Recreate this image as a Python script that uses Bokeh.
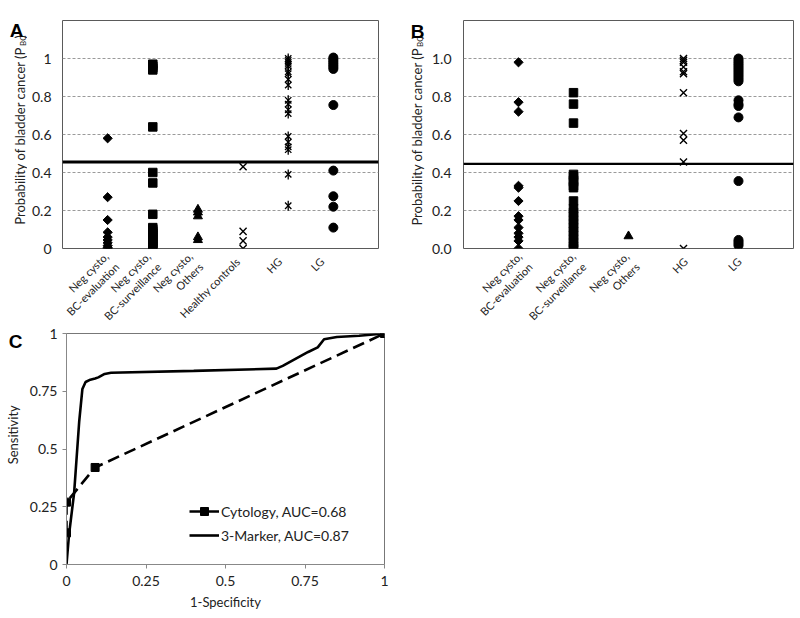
from math import pi
from bokeh.plotting import figure
from bokeh.models import FixedTicker, Span, Legend, LegendItem, Range1d
from bokeh.core.properties import value
from bokeh.layouts import column, row
from bokeh.embed import file_html
from bokeh.resources import INLINE

FONT = "Lato"

# ---------------- data: panel A ----------------
a_categories = ["Neg cysto,\nBC-evaluation", "Neg cysto,\nBC-surveillance", "Neg cysto,\nOthers",
                "Healthy controls", "HG", "LG"]
a_bc_eval = [0.58, 0.27, 0.15, 0.085, 0.06, 0.045, 0.03, 0.015, 0.005, 0.0]
a_bc_surv = [0.97, 0.96, 0.95, 0.94, 0.64, 0.40, 0.345, 0.18, 0.11, 0.10, 0.09, 0.08, 0.07,
             0.06, 0.05, 0.04, 0.03, 0.02, 0.01, 0.0]
a_others = [0.205, 0.19, 0.17, 0.06, 0.045]
a_healthy = [0.43, 0.09, 0.04, 0.0]
a_hg = [1.0, 0.99, 0.98, 0.97, 0.96, 0.93, 0.92, 0.89, 0.86, 0.78, 0.76, 0.73, 0.71,
        0.59, 0.56, 0.535, 0.52, 0.39, 0.225]
a_lg = [1.005, 0.995, 0.985, 0.975, 0.965, 0.955, 0.945, 0.755, 0.41, 0.275, 0.22, 0.11]
a_threshold = 0.455

# ---------------- data: panel B ----------------
b_categories = ["Neg cysto,\nBC-evaluation", "Neg cysto,\nBC-surveillance", "Neg cysto,\nOthers",
                "HG", "LG"]
b_bc_eval = [0.98, 0.77, 0.72, 0.33, 0.32, 0.25, 0.17, 0.15, 0.11, 0.08, 0.06, 0.04, 0.0]
b_bc_surv = [0.82, 0.76, 0.66, 0.39, 0.38, 0.36, 0.35, 0.33, 0.32, 0.25, 0.21, 0.19, 0.17,
             0.15, 0.13, 0.11, 0.09, 0.07, 0.05, 0.03, 0.01, 0.0]
b_others = [0.065]
b_hg = [1.0, 0.99, 0.98, 0.955, 0.93, 0.92, 0.82, 0.605, 0.57, 0.455, 0.0]
b_lg = [1.0, 0.99, 0.98, 0.97, 0.96, 0.95, 0.94, 0.93, 0.92, 0.91, 0.90, 0.89, 0.88,
        0.78, 0.76, 0.75, 0.69, 0.355, 0.045, 0.035, 0.025, 0.015]
b_threshold = 0.445

# ---------------- data: panel C ----------------
cyto_fpr = [0.0, 0.0, 0.09, 1.0]
cyto_tpr = [0.137, 0.27, 0.42, 1.0]
marker_fpr = [0.0, 0.008, 0.024, 0.04, 0.05, 0.06, 0.075, 0.09, 0.1, 0.12, 0.14, 0.4, 0.66,
              0.68, 0.72, 0.76, 0.79, 0.81, 0.85, 0.92, 1.0]
marker_tpr = [0.0, 0.13, 0.31, 0.62, 0.76, 0.79, 0.80, 0.805, 0.81, 0.825, 0.83, 0.838, 0.848,
              0.86, 0.89, 0.92, 0.94, 0.975, 0.985, 0.99, 1.0]
cyto_label = "Cytology, AUC=0.68"
marker_label = "3-Marker, AUC=0.87"

prob_ticks = [0, 0.2, 0.4, 0.6, 0.8, 1.0]
c_ticks = [0, 0.25, 0.5, 0.75, 1.0]
ytitle_main = "Probability of bladder cancer (P"
ytitle_sub = "BC"

# ---------------- layout constants (pixels) ----------------
FRAME_TOP = 20       # frame of the scatter plots spans y 20..248
FRAME_BOT = 248
TOP_H = FRAME_BOT + 1
STRIP_H = 73         # strip below for category labels
BAND_H = TOP_H + STRIP_H
SIDE_W = 27          # left strip for y title / panel letter
AXIS_W = 34          # figure holding the y axis (33 px for labels + 1 px frame)
Y_MAX = 1.2
PX_PER_UNIT = (FRAME_BOT - FRAME_TOP) / Y_MAX


def bare(width, height, xr, yr):
    f = figure(width=width, height=height, x_range=xr, y_range=yr, output_backend="svg",
               toolbar_location=None, min_border=0, title=None)
    f.axis.visible = False
    f.grid.visible = False
    f.outline_line_color = None
    f.background_fill_color = "white"
    f.border_fill_color = "white"
    return f


def yaxis_fig(ticks, overrides):
    f = figure(width=AXIS_W, height=BAND_H, x_range=Range1d(0, 1), y_range=Range1d(0, Y_MAX),
               output_backend="svg", toolbar_location=None, title=None,
               min_border_left=AXIS_W - 1, min_border_right=0,
               min_border_top=FRAME_TOP, min_border_bottom=BAND_H - FRAME_BOT)
    f.xaxis.visible = False
    f.grid.visible = False
    f.outline_line_color = None
    f.yaxis.ticker = FixedTicker(ticks=ticks)
    f.yaxis.major_label_overrides = overrides
    ax = f.yaxis[0]
    ax.axis_line_color = None
    ax.major_tick_in = 0
    ax.major_tick_out = 0
    ax.minor_tick_in = 0
    ax.minor_tick_out = 0
    ax.major_label_standoff = 9
    ax.major_label_text_font = FONT
    ax.major_label_text_font_size = "14px"
    ax.major_label_text_color = "#222222"
    return f


def scatter_panel(width, frame_w, border_left, xmax, ticks):
    p = figure(width=width, height=TOP_H, x_range=Range1d(0, xmax), y_range=Range1d(0, Y_MAX),
               output_backend="svg", toolbar_location=None, title=None,
               min_border_left=border_left, min_border_right=width - border_left - frame_w,
               min_border_top=FRAME_TOP, min_border_bottom=1)
    p.outline_line_color = "#5a5a5a"
    p.outline_line_width = 1
    p.xaxis.visible = False
    p.yaxis.visible = False
    p.xgrid.visible = False
    p.ygrid.ticker = FixedTicker(ticks=ticks[1:])
    p.ygrid.grid_line_color = "#9a9a9a"
    p.ygrid.grid_line_dash = "3 2"
    return p


def add_points(p, xpos, vals, kind):
    xs = [xpos] * len(vals)
    if kind == "diamond":
        p.scatter(xs, vals, marker="square", angle=pi / 4, size=6.5, color="black")
    elif kind == "square":
        p.scatter(xs, vals, marker="square", size=8.5, color="black")
    elif kind == "triangle":
        p.scatter(xs, vals, marker="triangle", size=9, color="black")
    elif kind == "x":
        p.scatter(xs, vals, marker="x", size=10, line_color="black", line_width=1.4)
    elif kind == "star":
        p.scatter(xs, vals, marker="x", size=9, line_color="black", line_width=1.3)
        p.scatter(xs, vals, marker="dash", angle=pi / 2, size=10, line_color="black", line_width=1.3)
    elif kind == "circle":
        p.scatter(xs, vals, marker="circle", size=9, color="black")


def side_strip(letter, letter_x, letter_y, title_x, title_end):
    # y range matched to the neighbouring plot frame so data values line up
    top_val = Y_MAX + FRAME_TOP / PX_PER_UNIT
    bot_val = -(BAND_H - FRAME_BOT) / PX_PER_UNIT
    s = bare(SIDE_W, BAND_H, Range1d(0, SIDE_W), Range1d(bot_val, top_val))
    s.text(x=[title_x], y=[title_end], text=[ytitle_main], angle=pi / 2, text_align="right",
           text_baseline="middle", text_font=value(FONT), text_font_size="13px", text_color="#222222")
    s.text(x=[title_x + 3.5], y=[title_end + 0.004], text=[ytitle_sub], angle=pi / 2, text_align="left",
           text_baseline="middle", text_font=value(FONT), text_font_size="8px", text_color="#222222")
    s.text(x=[title_x], y=[title_end + 0.06], text=[")"], angle=pi / 2, text_align="left",
           text_baseline="middle", text_font=value(FONT), text_font_size="13px", text_color="#222222")
    s.text(x=[letter_x], y=[letter_y], text=[letter], text_align="center", text_baseline="middle",
           text_font=value("Liberation Sans"), text_font_style="bold", text_font_size="19px",
           text_color="black")
    return s


def label_strip(categories, width, border_left, frame_w, xmax):
    unit = frame_w / xmax
    x0 = -border_left / unit
    x1 = xmax + (width - border_left - frame_w) / unit
    s = bare(width, STRIP_H, Range1d(x0, x1), Range1d(STRIP_H, 0))
    xs = list(range(1, len(categories) + 1))
    s.text(x=xs, y=[10] * len(xs), text=categories, angle=pi / 4, x_offset=6,
           text_align="right", text_baseline="middle", text_font=value(FONT),
           text_font_size="11px", text_color="#222222", text_line_height=1.15)
    return s


PANEL_W = 400 - SIDE_W - AXIS_W

# ---------------- Panel A ----------------
A_BL, A_FW, A_XMAX = 1, 316, 7
pA = scatter_panel(PANEL_W, A_FW, A_BL, A_XMAX, prob_ticks)
a_series = [(a_bc_eval, "diamond"), (a_bc_surv, "square"), (a_others, "triangle"),
            (a_healthy, "x"), (a_hg, "star"), (a_lg, "circle")]
for i, (vals, kind) in enumerate(a_series):
    add_points(pA, i + 1, vals, kind)
pA.add_layout(Span(location=a_threshold, dimension="width", line_color="black", line_width=3))
tA = side_strip("A", 16, 1.23, 19, 1.112)
yA = yaxis_fig(prob_ticks, {0: "0", 1: "1"})
sA = label_strip(a_categories, PANEL_W, A_BL, A_FW, A_XMAX)

# ---------------- Panel B ----------------
B_BL, B_FW, B_XMAX = 2, 330, 6
pB = scatter_panel(PANEL_W, B_FW, B_BL, B_XMAX, prob_ticks)
b_series = [(b_bc_eval, "diamond"), (b_bc_surv, "square"), (b_others, "triangle"),
            (b_hg, "x"), (b_lg, "circle")]
for i, (vals, kind) in enumerate(b_series):
    add_points(pB, i + 1, vals, kind)
pB.add_layout(Span(location=b_threshold, dimension="width", line_color="black", line_width=2.2))
tB = side_strip("B", 17, 1.225, 16, 1.105)
yB = yaxis_fig(prob_ticks, {0: "0.0", 1: "1.0"})
sB = label_strip(b_categories, PANEL_W, B_BL, B_FW, B_XMAX)

# ---------------- Panel C ----------------
C_H = 292
C_SIDE = 26
pC = figure(width=400 - C_SIDE, height=C_H, x_range=Range1d(0, 1), y_range=Range1d(0, 1),
            output_backend="svg", toolbar_location=None, title=None,
            min_border_left=38, min_border_right=16, min_border_top=11, min_border_bottom=50)
pC.outline_line_color = "#777777"
pC.grid.visible = False
pC.xaxis.ticker = FixedTicker(ticks=c_ticks)
pC.yaxis.ticker = FixedTicker(ticks=c_ticks)
ovr = {0: "0", 0.25: "0.25", 0.5: "0.5", 0.75: "0.75", 1: "1"}
pC.xaxis.major_label_overrides = ovr
pC.yaxis.major_label_overrides = ovr
for ax in (pC.xaxis[0], pC.yaxis[0]):
    ax.axis_line_color = "#888888"
    ax.major_tick_in = 0
    ax.major_tick_out = 4
    ax.major_tick_line_color = "#888888"
    ax.minor_tick_in = 0
    ax.minor_tick_out = 0
    ax.major_label_text_font = FONT
    ax.major_label_text_font_size = "14px"
    ax.major_label_text_color = "#222222"
    ax.axis_label_text_font = FONT
    ax.axis_label_text_font_size = "13px"
    ax.axis_label_text_font_style = "normal"
    ax.axis_label_text_color = "#222222"
pC.xaxis.major_label_standoff = 7
pC.xaxis.axis_label_standoff = 5
pC.yaxis.major_label_standoff = 5
pC.xaxis.axis_label = "1-Specificity"

r_cl = pC.line(cyto_fpr, cyto_tpr, line_color="black", line_width=2.6, line_dash="12 6")
r_cs = pC.scatter(cyto_fpr, cyto_tpr, marker="square", size=8, color="black")
r_ml = pC.line(marker_fpr, marker_tpr, line_color="black", line_width=2.6)

leg = Legend(items=[LegendItem(label=cyto_label, renderers=[r_cl, r_cs]),
                    LegendItem(label=marker_label, renderers=[r_ml])],
             location=(123, 19), orientation="vertical",
             background_fill_alpha=0, border_line_alpha=0,
             padding=0, margin=0, spacing=4, label_height=20, glyph_height=20,
             glyph_width=30, label_standoff=2,
             label_text_font=FONT, label_text_font_size="14px", label_text_color="#222222")
pC.add_layout(leg)

# left strip of panel C: letter and y title, y range in pixels from top
tC = bare(C_SIDE, C_H, Range1d(0, C_SIDE), Range1d(C_H, 0))
tC.text(x=[15], y=[-3], text=["C"], text_align="center", text_baseline="top",
        text_font=value("Liberation Sans"), text_font_style="bold", text_font_size="19px",
        text_color="black")
tC.text(x=[12], y=[128], text=["Sensitivity"], angle=pi / 2, text_align="center",
        text_baseline="middle", text_font=value(FONT), text_font_size="13px", text_color="#222222")

layout = column(
    row(row(tA, yA, column(pA, sA)), row(tB, yB, column(pB, sB))),
    row(tC, pC),
)
open("out.html", "w").write(file_html(layout, INLINE))
